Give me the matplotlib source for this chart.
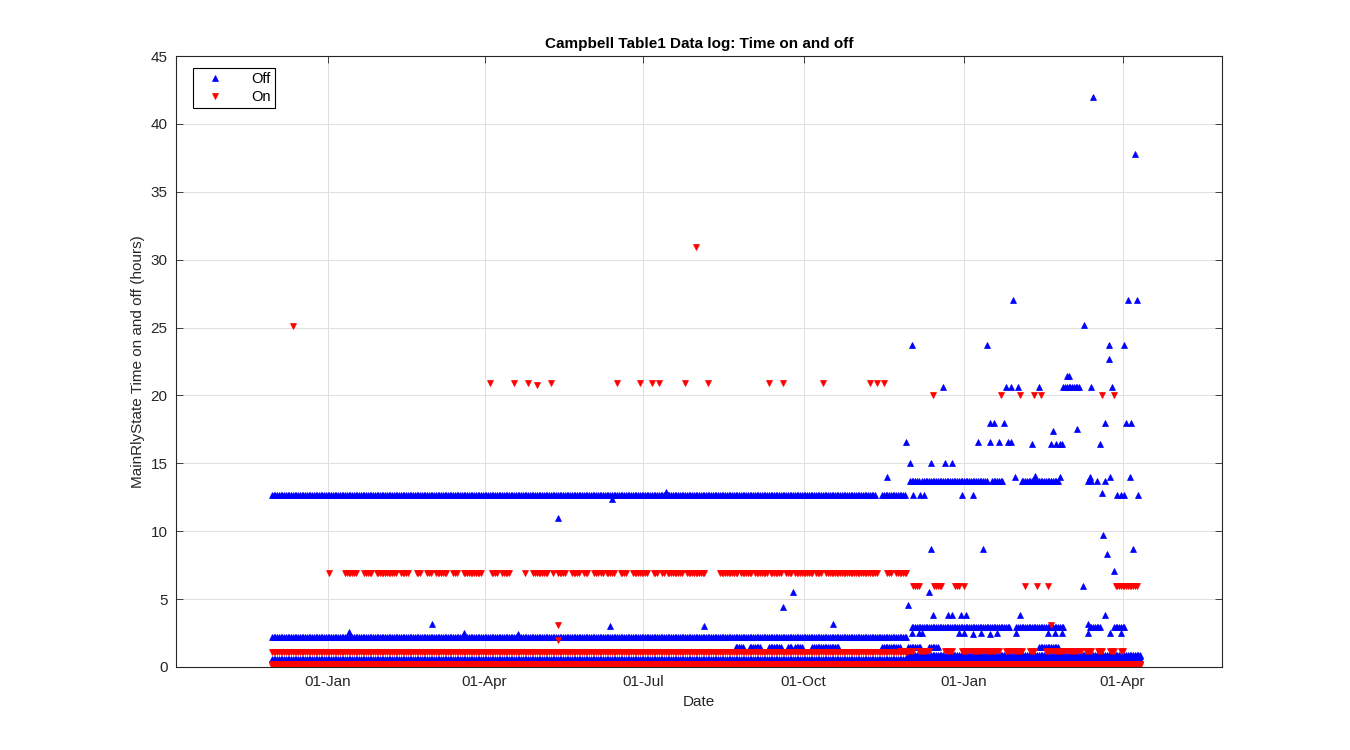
import numpy as np
import matplotlib.pyplot as plt
import matplotlib.dates as mdates

plt.rcParams['font.family'] = ['Liberation Sans', 'DejaVu Sans']

# Day numbers below count from 01-Jan-2015
DAY0 = np.datetime64('2015-01-01')

# ── Off (relay off) ───────────────────────────────────────────────────────────
# runs of near-identical daily cycles: first day, last day, hours
off_run_first = [-32, 318, -32, -32, 333, 335, 395, 437, 451,
                 334, 341, 381, 398, 422,
                 234, 242, 253, 264, 268, 278, 318, 333, 345, 408, 460]
off_run_last  = [314, 331, 332, 466, 466, 391, 422, 443, 457,
                 339, 378, 387, 419, 431,
                 238, 248, 260, 266, 272, 293, 328, 340, 350, 419, 466]
off_run_hours = [12.7, 12.7, 2.2, 0.6, 0.85, 2.97, 2.97, 2.97, 2.97,
                 13.7, 13.7, 13.7, 13.7, 20.6,
                 1.45, 1.45, 1.45, 1.45, 1.45, 1.45, 1.45, 1.45, 1.45, 1.45, 0.8]

# single readings
off_day = [12, 60, 78, 109, 132, 162, 163, 194, 216, 261, 267, 290,
           321, 332, 333, 334, 335, 336, 340, 342, 345, 346, 346, 347,
           353, 354, 356, 358, 358, 363, 364, 366, 370, 373, 376, 378,
           380, 380, 382, 385, 388, 389, 390, 392, 392, 393, 394, 396,
           397, 404, 406, 408, 415, 416, 418, 420, 420, 421, 424, 425,
           430, 433, 434, 436, 436, 437, 438, 438, 439, 441, 443, 444,
           445, 446, 446, 446, 447, 448, 448, 449, 450, 451, 453, 455,
           457, 457, 458, 459, 460, 461, 462, 463, 464, 465,
           335, 339, 341, 362, 365, 370, 375, 380, 384, 395, 413, 417,
           421, 436, 449, 455]
off_hours = [2.6, 3.2, 2.5, 2.4, 11.0, 3.05, 12.4, 12.9, 3.0, 4.4, 5.5, 3.2,
             14.0, 16.6, 4.6, 15.0, 23.7, 12.7, 12.7, 12.7, 5.5, 15.0, 8.7, 3.8,
             20.6, 15.0, 3.8, 15.0, 3.8, 3.8, 12.7, 3.8, 12.7, 16.6, 8.7, 23.7,
             18.0, 16.6, 18.0, 16.6, 18.0, 20.6, 16.6, 20.6, 16.6, 27.0, 14.0, 20.6,
             3.8, 16.4, 14.1, 20.6, 16.4, 17.4, 16.4, 14.0, 16.4, 16.4, 21.4, 21.4,
             17.5, 6.0, 25.2, 13.7, 3.2, 14.0, 13.7, 20.6, 42.0, 13.7, 16.4, 12.8,
             9.7, 18.0, 13.7, 3.8, 8.3, 22.7, 23.7, 14.0, 20.6, 7.1, 12.7, 12.7,
             12.7, 23.7, 18.0, 27.0, 14.0, 18.0, 8.7, 37.8, 27.0, 12.7,
             2.5, 2.5, 2.5, 2.5, 2.5, 2.4, 2.5, 2.4, 2.5, 2.5, 2.5, 2.5,
             2.5, 2.5, 2.5, 2.5]

# ── On (relay on) ─────────────────────────────────────────────────────────────
on_run_first = [1, 10, 21, 28, 42, 51, 57, 62, 72, 78, 94, 100, 113, 118, 129,
                132, 140, 147, 153, 157, 160, 168, 175, 187, 192, 195, 206, 225,
                237, 245, 254, 263, 268, 280, 286, 290, 321, 326,
                -32, -32, -32, 328, 339, 354, 364, 389, 403, 412, 435, 442, 449, 455,
                336, 348, 360, 452]
on_run_last  = [1, 16, 25, 39, 46, 53, 59, 68, 74, 88, 97, 104, 113, 126, 129,
                136, 144, 149, 155, 158, 164, 171, 183, 189, 193, 203, 216, 235,
                243, 252, 260, 266, 278, 283, 289, 315, 323, 332,
                466, 466, 332, 336, 345, 358, 385, 398, 405, 432, 438, 444, 451, 456,
                339, 352, 362, 464]
on_run_hours = [6.9] * 38 + [0.22, 0.08, 1.1] + [1.15] * 11 + [6.0] * 4

on_day = [-20, 93, 107, 115, 120, 128, 132, 132, 166, 179, 186, 190,
          205, 211, 218, 253, 261, 284, 311, 315, 319,
          347, 386, 397, 405, 409, 444, 451,
          365, 400, 407, 413, 415]
on_hours = [25.1, 20.9, 20.9, 20.9, 20.8, 20.9, 3.1, 2.0, 20.9, 20.9, 20.9, 20.9,
            20.9, 30.9, 20.95, 20.9, 20.95, 20.95, 20.95, 20.9, 20.9,
            20.0, 20.0, 20.0, 20.0, 20.0, 20.0, 20.0,
            6.0, 6.0, 6.0, 6.0, 3.1]


def build(first, last, level, day, hours):
    d = [np.arange(a, b + 1) for a, b in zip(first, last)]
    h = [np.full(len(x), v) for x, v in zip(d, level)]
    d = np.concatenate(d + [np.array(day)])
    h = np.concatenate(h + [np.array(hours)])
    return DAY0 + d.astype('timedelta64[D]'), h


off_t, off_h = build(off_run_first, off_run_last, off_run_hours, off_day, off_hours)
on_t, on_h = build(on_run_first, on_run_last, on_run_hours, on_day, on_hours)

# ── Plot ──────────────────────────────────────────────────────────────────────
fig = plt.figure(figsize=(13.5, 7.5), dpi=100)
ax = fig.add_axes([0.1304, 0.1107, 0.7748, 0.8146])

ax.plot(off_t, off_h, '^', color='blue', markerfacecolor='blue', markersize=4.2,
        markeredgewidth=0.5, label='Off')
ax.plot(on_t, on_h, 'v', color='red', markerfacecolor='red', markersize=4.2,
        markeredgewidth=0.5, label='On')

ax.set_xlim(DAY0 + np.timedelta64(-87, 'D'), DAY0 + np.timedelta64(513, 'D'))
ax.set_ylim(0, 45)
ax.set_yticks(np.arange(0, 46, 5))
ax.xaxis.set_major_locator(mdates.MonthLocator(bymonth=[1, 4, 7, 10]))
ax.xaxis.set_major_formatter(mdates.DateFormatter('%d-%b'))

dark = '#262626'
for s in ax.spines.values():
    s.set_color(dark)
    s.set_linewidth(0.8)
ax.tick_params(direction='in', top=True, right=True, length=5, width=0.6,
               colors=dark, labelsize=11, pad=6)
ax.grid(True, color='#dedede', linewidth=0.7)
ax.set_axisbelow(True)

ax.set_title('Campbell Table1 Data log: Time on and off', fontsize=11,
             fontweight='bold', color='black', pad=6)
ax.set_xlabel('Date', fontsize=11, color=dark)
ax.set_ylabel('MainRlyState Time on and off (hours)', fontsize=11, color=dark)

leg = ax.legend(loc='upper left', bbox_to_anchor=(0.009, 0.993), fancybox=False,
                edgecolor='black', framealpha=1, fontsize=10.5, handletextpad=1.2,
                borderpad=0.3, labelspacing=0.25, markerscale=1.0, handlelength=2.5)
leg.get_frame().set_linewidth(0.8)

plt.savefig('out.png', dpi=100)
